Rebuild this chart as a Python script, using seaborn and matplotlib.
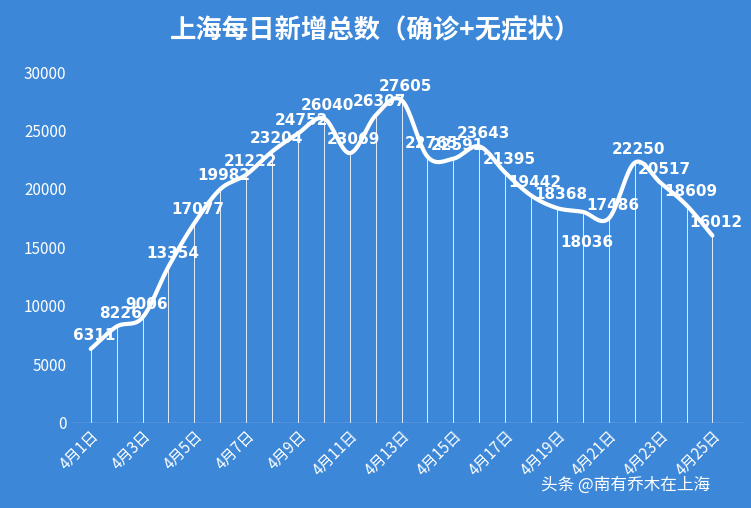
import numpy as np
import pandas as pd
import matplotlib
matplotlib.use("Agg")
import matplotlib.pyplot as plt
import seaborn as sns

dates = [f"4月{i}日" for i in range(1, 26)]
values = [6311, 8226, 9006, 13354, 17077, 19982, 21222, 23204, 24752, 26040, 23069,
          26307, 27605, 22765, 22591, 23643, 21395, 19442, 18368, 18036, 17486,
          22250, 20517, 18609, 16012]
title = "上海每日新增总数（确诊+无症状）"

sns.set_theme(style="white")
plt.rcParams['font.family'] = ['Noto Sans CJK SC', 'DejaVu Sans']
bg = "#3c87d8"
fig = plt.figure(figsize=(7.51, 5.08), dpi=100, facecolor=bg)
ax = fig.add_axes([0.095, 0.168, 0.895, 0.69], facecolor=bg)

df = pd.DataFrame({"x": np.arange(len(values)), "v": values})

# Catmull-Rom smoothing for display of the curve
x = df.x.values.astype(float); y = df.v.values.astype(float)
px = np.concatenate([[2*x[0]-x[1]], x, [2*x[-1]-x[-2]]])
py = np.concatenate([[2*y[0]-y[1]], y, [2*y[-1]-y[-2]]])
sx, sy = [], []
t = np.linspace(0, 1, 20)
for i in range(1, len(px)-2):
    for arr, out in ((px, sx), (py, sy)):
        p0, p1, p2, p3 = arr[i-1], arr[i], arr[i+1], arr[i+2]
        out.extend(0.5*((2*p1) + (-p0+p2)*t + (2*p0-5*p1+4*p2-p3)*t**2 + (-p0+3*p1-3*p2+p3)*t**3))
ax.vlines(df.x, 0, df.v, color="white", lw=0.7, alpha=0.85)
sns.lineplot(x=sx, y=sy, ax=ax, color="white", lw=3, sort=False)
for i, (xi, v) in enumerate(zip(df.x, df.v)):
    dy, va = 500, "bottom"
    if i == 19:
        dy, va = -2000, "top"
    ax.text(xi + 0.15, v + dy, str(v), color="white", fontsize=11, fontweight="bold",
            ha="center", va=va, family=['DejaVu Sans'])

ax.set_xlim(-0.75, 25.2)
ax.set_ylim(0, 30000)
ax.set_yticks(range(0, 30001, 5000))
ax.set_xticks(df.x[::2])
ax.set_xticklabels(dates[::2], rotation=45, ha="right", rotation_mode="anchor")
ax.tick_params(colors="white", labelsize=11, length=0)
for s in ax.spines.values():
    s.set_visible(False)
ax.axhline(0, color="#9cc3ee", lw=1)
ax.set_xlabel(""); ax.set_ylabel("")
fig.text(0.5, 0.94, title, color="white", fontsize=19, fontweight="bold", ha="center", va="center")
fig.text(0.72, 0.045, "头条 @南有乔木在上海", color="white", fontsize=12, ha="left", va="center")
fig.savefig("out.png", dpi=100, facecolor=bg)
